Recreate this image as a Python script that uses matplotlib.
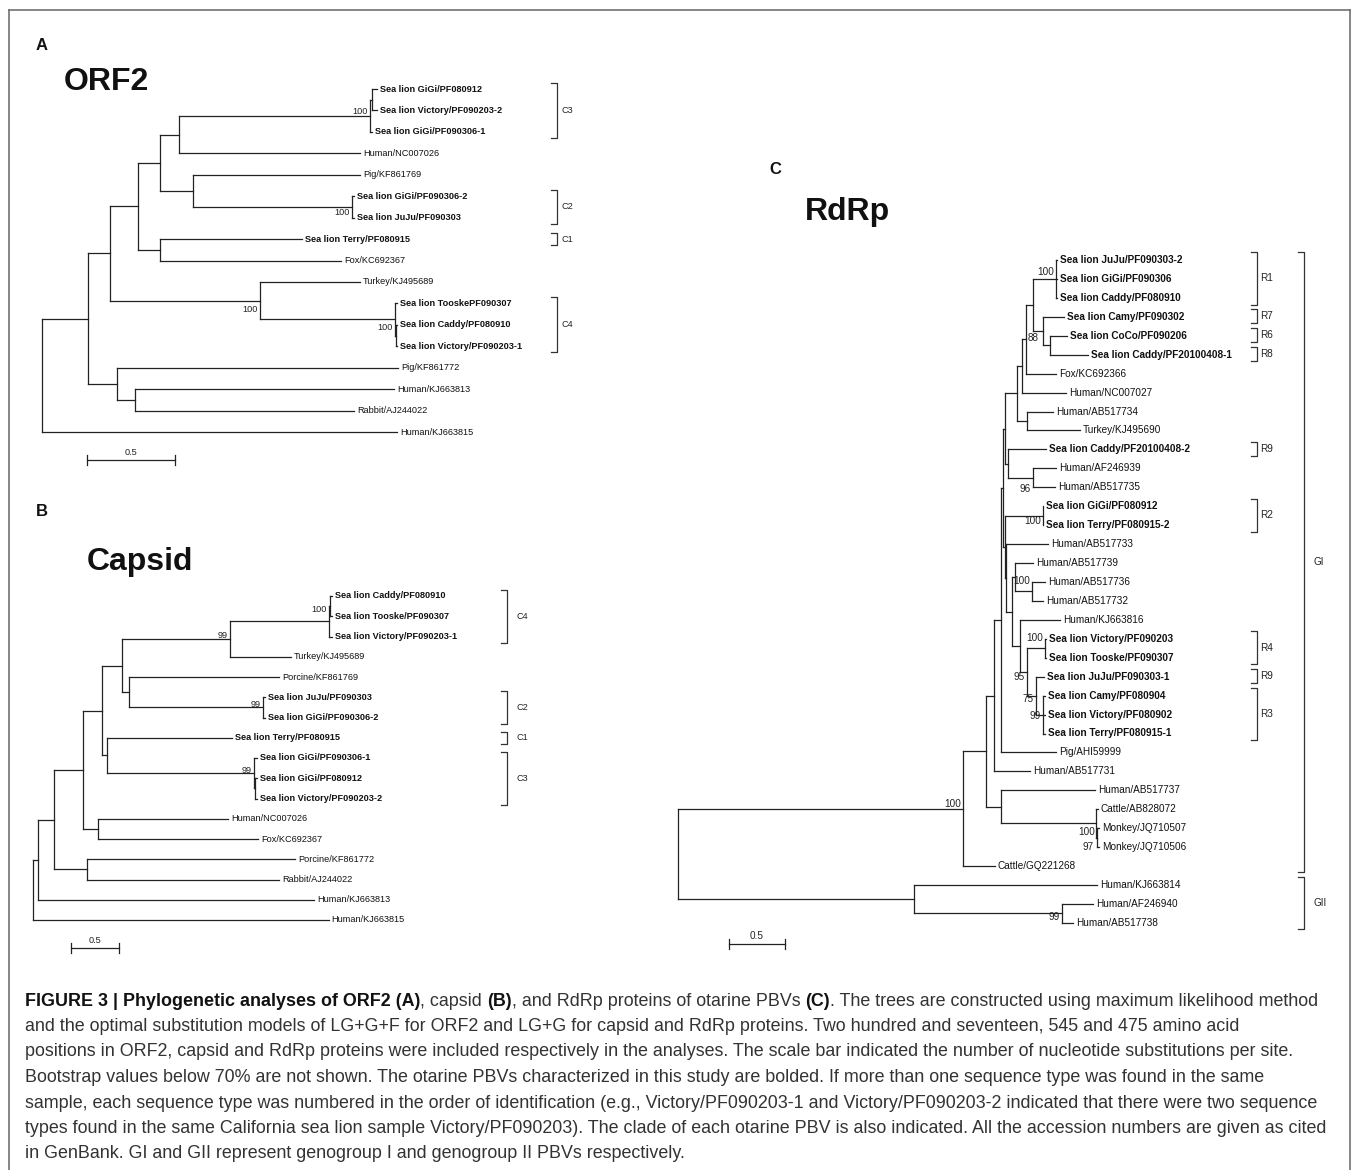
import matplotlib
matplotlib.use("Agg")
import matplotlib.pyplot as plt
from matplotlib.lines import Line2D

plt.rcParams["font.family"] = ["Liberation Sans", "DejaVu Sans"]

W, H, DPI = 1358, 1170, 100
LINE = "#222222"

# ---------------- panel A: ORF2 ----------------
ORF2_TIPS = [
    "Sea lion GiGi/PF080912", "Sea lion Victory/PF090203-2", "Sea lion GiGi/PF090306-1",
    "Human/NC007026", "Pig/KF861769", "Sea lion GiGi/PF090306-2", "Sea lion JuJu/PF090303",
    "Sea lion Terry/PF080915", "Fox/KC692367", "Turkey/KJ495689", "Sea lion TooskePF090307",
    "Sea lion Caddy/PF080910", "Sea lion Victory/PF090203-1", "Pig/KF861772",
    "Human/KJ663813", "Rabbit/AJ244022", "Human/KJ663815",
]
# distance of each tip from the root (substitutions per site)
ORF2_TIP_X = [1.903, 1.903, 1.875, 1.807, 1.807, 1.773, 1.773, 1.477, 1.699,
              1.807, 2.017, 2.017, 2.017, 2.023, 2.000, 1.773, 2.017]
# clades as (first tip, last tip, node depth)
ORF2_CLADES = [
    (0, 16, 0.0), (0, 15, 0.261), (0, 12, 0.386), (0, 8, 0.545), (0, 6, 0.670),
    (0, 3, 0.778), (0, 2, 1.864), (0, 1, 1.875), (4, 6, 0.858), (5, 6, 1.761),
    (7, 8, 0.670), (9, 12, 1.239), (10, 12, 2.006), (11, 12, 2.011),
    (13, 15, 0.426), (14, 15, 0.528),
]
# bootstrap values as (first tip, last tip, value, row offset, side)
ORF2_SUPPORT = [
    (0, 2, "100", -0.2, "l"), (5, 6, "100", 0.28, "l"),
    (9, 12, "100", 0.4, "l"), (10, 12, "100", 0.37, "l"),
]
ORF2_GROUPS = [("C3", 0, 2), ("C2", 5, 6), ("C1", 7, 7), ("C4", 10, 12)]

# ---------------- panel B: capsid ----------------
CAPSID_TIPS = [
    "Sea lion Caddy/PF080910", "Sea lion Tooske/PF090307", "Sea lion Victory/PF090203-1",
    "Turkey/KJ495689", "Porcine/KF861769", "Sea lion JuJu/PF090303",
    "Sea lion GiGi/PF090306-2", "Sea lion Terry/PF080915", "Sea lion GiGi/PF090306-1",
    "Sea lion GiGi/PF080912", "Sea lion Victory/PF090203-2", "Human/NC007026",
    "Fox/KC692367", "Porcine/KF861772", "Rabbit/AJ244022", "Human/KJ663813",
    "Human/KJ663815",
]
CAPSID_TIP_X = [3.115, 3.115, 3.115, 2.688, 2.563, 2.417, 2.417, 2.073, 2.333,
                2.333, 2.333, 2.031, 2.344, 2.729, 2.563, 2.927, 3.083]
CAPSID_CLADES = [
    (0, 16, 0.0), (0, 15, 0.052), (0, 14, 0.219), (0, 12, 0.521), (0, 10, 0.719),
    (0, 6, 0.927), (0, 3, 2.052), (0, 2, 3.083), (0, 1, 3.094), (4, 6, 1.0),
    (5, 6, 2.396), (7, 10, 0.771), (8, 10, 2.302), (9, 10, 2.313),
    (11, 12, 0.677), (13, 14, 0.563),
]
CAPSID_SUPPORT = [
    (0, 2, "100", -0.6, "l"), (0, 3, "99", -0.15, "l"),
    (5, 6, "99", -0.15, "l"), (8, 10, "99", -0.15, "l"),
]
CAPSID_GROUPS = [("C4", 0, 2), ("C2", 5, 6), ("C1", 7, 7), ("C3", 8, 10)]

# ---------------- panel C: RdRp ----------------
RDRP_TIPS = [
    "Sea lion JuJu/PF090303-2", "Sea lion GiGi/PF090306", "Sea lion Caddy/PF080910",
    "Sea lion Camy/PF090302", "Sea lion CoCo/PF090206", "Sea lion Caddy/PF20100408-1",
    "Fox/KC692366", "Human/NC007027", "Human/AB517734", "Turkey/KJ495690",
    "Sea lion Caddy/PF20100408-2", "Human/AF246939", "Human/AB517735",
    "Sea lion GiGi/PF080912", "Sea lion Terry/PF080915-2", "Human/AB517733",
    "Human/AB517739", "Human/AB517736", "Human/AB517732", "Human/KJ663816",
    "Sea lion Victory/PF090203", "Sea lion Tooske/PF090307", "Sea lion JuJu/PF090303-1",
    "Sea lion Camy/PF080904", "Sea lion Victory/PF080902", "Sea lion Terry/PF080915-1",
    "Pig/AHI59999", "Human/AB517731", "Human/AB517737", "Cattle/AB828072",
    "Monkey/JQ710507", "Monkey/JQ710506", "Cattle/GQ221268", "Human/KJ663814",
    "Human/AF246940", "Human/AB517738",
]
RDRP_TIP_X = [3.384, 3.384, 3.384, 3.446, 3.473, 3.661, 3.375, 3.464, 3.348,
              3.589, 3.286, 3.375, 3.366, 3.259, 3.259, 3.304, 3.170, 3.277,
              3.259, 3.411, 3.286, 3.286, 3.268, 3.277, 3.277, 3.277, 3.375,
              3.143, 3.723, 3.750, 3.759, 3.759, 2.830, 3.741, 3.705, 3.527]
RDRP_CLADES = [
    (0, 35, 0.0), (0, 32, 2.545), (33, 35, 2.107), (34, 35, 3.429),
    (0, 31, 2.750), (0, 27, 2.821), (28, 31, 2.884), (29, 31, 3.732),
    (30, 31, 3.741), (0, 26, 2.884), (0, 25, 2.902), (0, 12, 2.920),
    (0, 9, 3.027), (0, 7, 3.071), (0, 6, 3.107), (0, 5, 3.170), (0, 2, 3.375),
    (3, 5, 3.259), (4, 5, 3.321), (8, 9, 3.116), (10, 12, 2.946),
    (11, 12, 3.170), (13, 25, 2.920), (13, 14, 3.259), (15, 25, 2.929),
    (16, 25, 2.982), (16, 18, 3.009), (17, 18, 3.161), (19, 25, 3.054),
    (20, 25, 3.116), (20, 21, 3.277), (22, 25, 3.196), (23, 25, 3.259),
]
RDRP_SUPPORT = [
    (0, 2, "100", -0.37, "l"), (0, 6, "88", -0.05, "r"), (11, 12, "96", 0.58, "l"),
    (13, 14, "100", 0.3, "l"), (17, 18, "100", -0.53, "l"), (20, 21, "100", -0.53, "l"),
    (20, 25, "95", 0.26, "l"), (22, 25, "75", 0.16, "l"), (23, 25, "99", 0.05, "l"),
    (30, 31, "100", -0.3, "l"), (29, 31, "97", 1.24, "l"), (0, 32, "100", -0.25, "l"),
    (34, 35, "99", 0.18, "l"),
]
RDRP_GROUPS = [
    ("R1", 0, 2), ("R7", 3, 3), ("R6", 4, 4), ("R8", 5, 5), ("R9", 10, 10),
    ("R2", 13, 14), ("R4", 20, 21), ("R9", 22, 22), ("R3", 23, 25),
]
RDRP_GENOGROUPS = [("GI", 0, 32), ("GII", 33, 35)]

SCALE_LEN = 0.5

CAPTION_LINES = [
    [("FIGURE 3 | Phylogenetic analyses of ORF2 (A)", True), (", capsid ", False),
     ("(B)", True), (", and RdRp proteins of otarine PBVs ", False), ("(C)", True),
     (". The trees are constructed using maximum likelihood method", False)],
    [("and the optimal substitution models of LG+G+F for ORF2 and LG+G for capsid and "
      "RdRp proteins. Two hundred and seventeen, 545 and 475 amino acid", False)],
    [("positions in ORF2, capsid and RdRp proteins were included respectively in the "
      "analyses. The scale bar indicated the number of nucleotide substitutions per site.", False)],
    [("Bootstrap values below 70% are not shown. The otarine PBVs characterized in this "
      "study are bolded. If more than one sequence type was found in the same", False)],
    [("sample, each sequence type was numbered in the order of identification (e.g., "
      "Victory/PF090203-1 and Victory/PF090203-2 indicated that there were two sequence", False)],
    [("types found in the same California sea lion sample Victory/PF090203). The clade of "
      "each otarine PBV is also indicated. All the accession numbers are given as cited", False)],
    [("in GenBank. GI and GII represent genogroup I and genogroup II PBVs respectively.", False)],
]


def fx(x):
    return x / W


def fy(y):
    return 1 - y / H


def panel_axes(fig, rect, root, ppu, y0, row):
    left, top, w, h = rect
    ax = fig.add_axes([fx(left), fy(top + h), w / W, h / H])
    ax.set_xlim((left - root) / ppu, (left + w - root) / ppu)
    ax.set_ylim((top + h - y0) / row, (top - y0) / row)
    ax.axis("off")
    return ax


def draw_tree(ax, tips, tip_x, clades, support, fs, lw=0.9):
    depth = {(a, b): d for a, b, d in clades}
    ypos = {}

    def children(a, b):
        out, i = [], a
        while i <= b:
            best = None
            for c, e in depth:
                if c == i and e <= b and (c, e) != (a, b):
                    if best is None or e > best[1]:
                        best = (c, e)
            if best:
                out.append(best)
                i = best[1] + 1
            else:
                out.append(i)
                i += 1
        return out

    def walk(key):
        if isinstance(key, int):
            return tip_x[key], key
        x = depth[key]
        kids = [walk(k) for k in children(*key)]
        ys = [ky for _, ky in kids]
        for kx, ky in kids:
            ax.plot([x, kx], [ky, ky], color=LINE, lw=lw, solid_capstyle="projecting")
        ax.plot([x, x], [min(ys), max(ys)], color=LINE, lw=lw, solid_capstyle="projecting")
        ypos[key] = (min(ys) + max(ys)) / 2
        return x, ypos[key]

    walk((0, len(tips) - 1))

    for i, (name, x) in enumerate(zip(tips, tip_x)):
        ax.annotate(name, (x, i), xytext=(2, 0), textcoords="offset points",
                    va="center", ha="left", fontsize=fs, color="#111111",
                    fontweight="bold" if name.startswith("Sea lion") else "normal")

    for a, b, txt, dy, side in support:
        off = -1.5 if side == "l" else 1.5
        ax.annotate(txt, (depth[(a, b)], ypos[(a, b)] + dy), xytext=(off, 0),
                    textcoords="offset points", va="center",
                    ha="right" if side == "l" else "left", fontsize=fs, color="#222222")


def draw_brackets(ax, groups, x, tick, fs, pad=(0.35, 0.3), lab_dx=3):
    for name, a, b in groups:
        y1, y2 = a - pad[0], b + pad[1]
        ax.plot([x - tick, x, x, x - tick], [y1, y1, y2, y2], color="#333333", lw=0.9)
        ax.annotate(name, (x, (y1 + y2) / 2), xytext=(lab_dx, 0), textcoords="offset points",
                    va="center", ha="left", fontsize=fs, color="#222222")


def draw_scale(ax, x0, yrow, fs, tick=0.25):
    ax.plot([x0, x0 + SCALE_LEN], [yrow, yrow], color=LINE, lw=0.9)
    for xx in (x0, x0 + SCALE_LEN):
        ax.plot([xx, xx], [yrow - tick, yrow + tick], color=LINE, lw=0.9)
    ax.annotate("0.5", (x0 + SCALE_LEN / 2, yrow), xytext=(0, 2.5), textcoords="offset points",
                ha="center", va="bottom", fontsize=fs, color="#222222")


fig = plt.figure(figsize=(W / DPI, H / DPI), dpi=DPI)
fig.patch.set_facecolor("white")

# frame round the figure
for xs, ys in (([9, 9], [10, H]), ([W - 8, W - 8], [10, H]), ([9, W - 8], [10, 10])):
    fig.add_artist(Line2D([fx(v) for v in xs], [fy(v) for v in ys], color="#666666", lw=1.1))

# panel A
axA = panel_axes(fig, (20, 60, 620, 420), root=42, ppu=176, y0=89, row=21.44)
draw_tree(axA, ORF2_TIPS, ORF2_TIP_X, ORF2_CLADES, ORF2_SUPPORT, fs=6.6)
draw_brackets(axA, ORF2_GROUPS, (557 - 42) / 176, 6 / 176, fs=6.6, pad=(0.28, 0.28), lab_dx=3)
draw_scale(axA, (87 - 42) / 176, (460 - 89) / 21.44, fs=6.6)

# panel B
axB = panel_axes(fig, (20, 580, 620, 380), root=33, ppu=96, y0=596, row=20.25)
draw_tree(axB, CAPSID_TIPS, CAPSID_TIP_X, CAPSID_CLADES, CAPSID_SUPPORT, fs=6.6)
draw_brackets(axB, CAPSID_GROUPS, (507 - 33) / 96, 6 / 96, fs=6.6, pad=(0.3, 0.3), lab_dx=7)
draw_scale(axB, (71 - 33) / 96, (948 - 596) / 20.25, fs=6.6)

# panel C
axC = panel_axes(fig, (660, 240, 690, 720), root=678, ppu=112, y0=260, row=18.94)
draw_tree(axC, RDRP_TIPS, RDRP_TIP_X, RDRP_CLADES, RDRP_SUPPORT, fs=7.2)
draw_brackets(axC, RDRP_GROUPS, (1257 - 678) / 112, 6 / 112, fs=7.2, pad=(0.4, 0.35), lab_dx=2.5)
draw_brackets(axC, RDRP_GENOGROUPS, (1304 - 678) / 112, 6 / 112, fs=7.2, pad=(0.4, 0.3), lab_dx=7)
draw_scale(axC, (729 - 678) / 112, (944 - 260) / 18.94, fs=7.2)

# panel letters and titles
for txt, x, y, size in (("A", 36, 46, 12), ("B", 36, 512, 12), ("C", 769, 170, 12),
                        ("ORF2", 64, 82, 23), ("Capsid", 87, 562, 23), ("RdRp", 805, 212, 23)):
    fig.text(fx(x), fy(y), txt, fontsize=size, fontweight="bold", ha="left", va="center",
             color="#111111")

# caption, bold parts drawn as separate pieces
renderer = fig.canvas.get_renderer()


def text_width(s, size, bold):
    t = fig.text(0, 0, s, fontsize=size, fontweight="bold" if bold else "normal")
    w = t.get_window_extent(renderer).width
    t.remove()
    return w


def line_width(parts, size):
    sw = text_width("x x", size, False) - text_width("xx", size, False)
    total = 0
    for s, bold in parts:
        core = s.strip()
        total += (len(s) - len(s.lstrip())) * sw + (len(s) - len(s.rstrip())) * sw
        total += text_width(core, size, bold)
    return total


widest = max(line_width(parts, 10) for parts in CAPTION_LINES)
cap_size = 10 * 1308 / widest
space_w = text_width("x x", cap_size, False) - text_width("xx", cap_size, False)
for li, parts in enumerate(CAPTION_LINES):
    x = 25
    y = 1001 + li * 25.5
    for s, bold in parts:
        core = s.strip()
        x += (len(s) - len(s.lstrip())) * space_w
        fig.text(fx(x), fy(y), core, fontsize=cap_size, va="center", ha="left",
                 fontweight="bold" if bold else "normal",
                 color="#111111" if bold else "#333333")
        x += text_width(core, cap_size, bold) + (len(s) - len(s.rstrip())) * space_w

fig.savefig("out.png", dpi=DPI, facecolor="white")
